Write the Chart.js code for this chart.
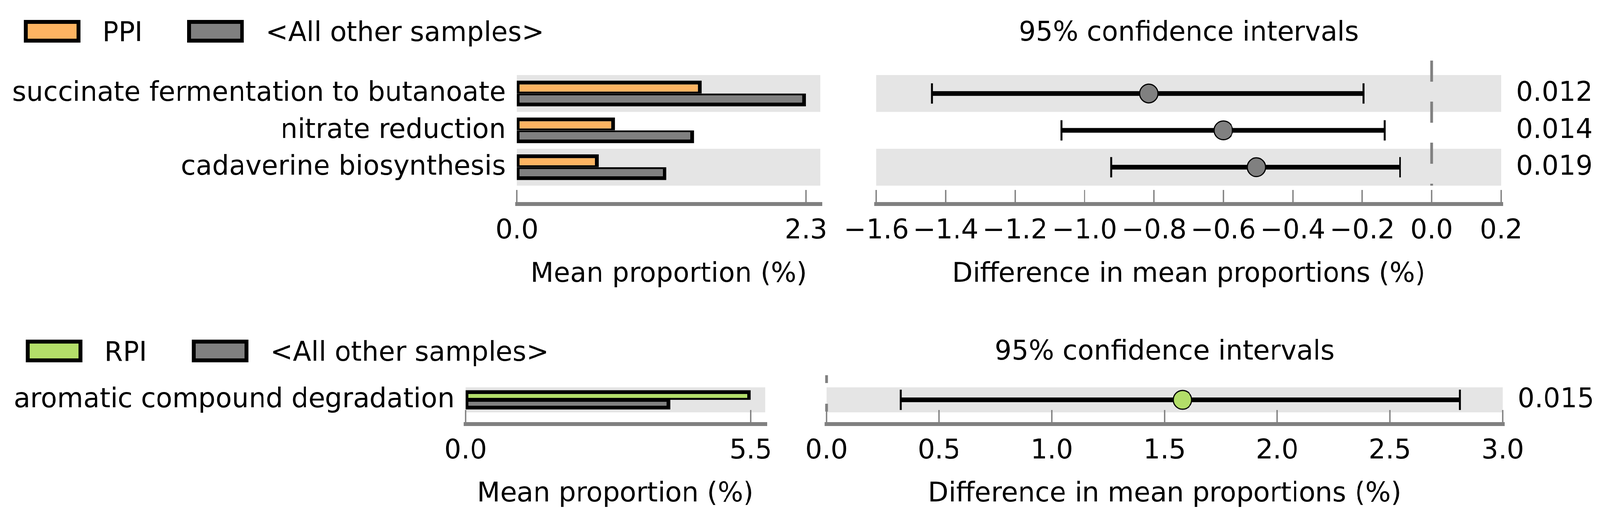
<!DOCTYPE html>
<html>
<head>
<meta charset="utf-8">
<script src="https://cdn.jsdelivr.net/npm/chart.js@4.4.1/dist/chart.umd.min.js"></script>
<style>
  html, body { margin: 0; padding: 0; background: #fff; overflow: hidden; }
  #wrap { position: absolute; left: 0; top: 0; width: 4172px; height: 1333px; background: #fff; transform-origin: 0 0; }
  #wrap canvas { position: absolute; left: 0; top: 0; }
</style>
</head>
<body>
<div id="wrap">
  <canvas id="topBars" width="4172" height="1333"></canvas>
  <canvas id="topCI" width="4172" height="1333"></canvas>
  <canvas id="bottomBars" width="4172" height="1333"></canvas>
  <canvas id="bottomCI" width="4172" height="1333"></canvas>
</div>
<script>
// --- data ---
const topCategories = ['succinate fermentation to butanoate', 'nitrate reduction', 'cadaverine biosynthesis'];
const topPPI = [1.47, 0.78, 0.65];
const topOther = [2.30, 1.41, 1.19];
const topDiff = [-0.815, -0.600, -0.505];
const topLower = [-1.440, -1.067, -0.923];
const topUpper = [-0.196, -0.135, -0.091];
const topPValues = ['0.012', '0.014', '0.019'];
const topPropTicks = [0, 2.3];
const topDiffTicks = [-1.6, -1.4, -1.2, -1.0, -0.8, -0.6, -0.4, -0.2, 0.0, 0.2];

const bottomCategories = ['aromatic compound degradation'];
const bottomRPI = [5.5];
const bottomOther = [3.95];
const bottomDiff = [1.58];
const bottomLower = [0.33];
const bottomUpper = [2.81];
const bottomPValues = ['0.015'];
const bottomPropTicks = [0, 5.5];
const bottomDiffTicks = [0.0, 0.5, 1.0, 1.5, 2.0, 2.5, 3.0];

const W = 4172, H = 1333;
const FONT = '70px "DejaVu Sans"';
const ORANGE = '#FDB462', GREEN = '#B3DE69', GREY = '#808080', BAND = '#E5E5E5';

// the browser window can be narrower than the figure, so fit the figure into it
const wrap = document.getElementById('wrap');
wrap.style.transform = 'scale(' + (window.innerWidth / W) + ',' + (window.innerHeight / H) + ')';

function fmt(v) {
    return (v < -1e-9 ? '\u2212' : '') + Math.abs(v).toFixed(1);
}

const stampPanel = {
    id: 'stampPanel',
    beforeDatasetsDraw(chart, args, opts) {
        const ctx = chart.ctx;
        const area = chart.chartArea;
        const n = opts.rows;
        const half = area.height / n / 2;
        const y = chart.scales.y;
        ctx.save();
        ctx.fillStyle = BAND;
        for (let i = 0; i < n; i += 2) {
            const c = y.getPixelForValue(i);
            ctx.fillRect(area.left, c - half, area.right - area.left, half * 2);
        }
        if (opts.zeroLine) {
            const x0 = chart.scales.x.getPixelForValue(0);
            ctx.strokeStyle = GREY;
            ctx.lineWidth = 7;
            ctx.setLineDash(opts.zeroLine.dash);
            ctx.beginPath();
            ctx.moveTo(x0, opts.zeroLine.top);
            ctx.lineTo(x0, area.bottom);
            ctx.stroke();
        }
        ctx.restore();
    },
    afterDraw(chart, args, opts) {
        const ctx = chart.ctx;
        const area = chart.chartArea;
        const x = chart.scales.x;
        const y = chart.scales.y;
        ctx.save();

        // axis line and ticks
        ctx.strokeStyle = GREY;
        ctx.lineWidth = 10;
        ctx.lineCap = 'square';
        ctx.beginPath();
        ctx.moveTo(area.left, opts.axisY);
        ctx.lineTo(area.right, opts.axisY);
        ctx.stroke();
        ctx.lineCap = 'butt';
        ctx.lineWidth = 3.5;
        ctx.font = FONT;
        ctx.fillStyle = '#000';
        ctx.textAlign = 'center';
        ctx.textBaseline = 'alphabetic';
        opts.ticks.forEach(t => {
            const px = x.getPixelForValue(t);
            ctx.beginPath();
            ctx.moveTo(px, opts.axisY - 36);
            ctx.lineTo(px, opts.axisY);
            ctx.stroke();
            ctx.fillText(fmt(t), px, opts.tickLabelY);
        });
        ctx.fillText(opts.axisTitle, (area.left + area.right) / 2, opts.axisTitleY);

        // row labels on the left, p-values on the right
        if (opts.rowLabels) {
            ctx.textAlign = 'right';
            opts.rowLabels.forEach((lab, i) => {
                ctx.fillText(lab, area.left - 29, y.getPixelForValue(i) + 19);
            });
        }
        if (opts.pValues) {
            ctx.textAlign = 'left';
            opts.pValues.forEach((p, i) => {
                ctx.fillText(p, area.right + 39, y.getPixelForValue(i) + 19);
            });
        }
        if (opts.title) {
            ctx.textAlign = 'center';
            ctx.fillText(opts.title, (area.left + area.right) / 2, opts.titleY);
        }

        // legend boxes from the bar datasets
        if (opts.legendX) {
            chart.data.datasets.forEach((ds, i) => {
                const bx = opts.legendX[i];
                ctx.fillStyle = ds.backgroundColor;
                ctx.fillRect(bx + 5, opts.legendTop + 5, 138, 48);
                ctx.strokeStyle = '#000';
                ctx.lineWidth = 10;
                ctx.strokeRect(bx + 5, opts.legendTop + 5, 138, 48);
                ctx.fillStyle = '#000';
                ctx.textAlign = 'left';
                ctx.fillText(ds.label, bx + 205, opts.legendBaseline);
            });
        }
        ctx.restore();
    }
};

function paddingFor(box) {
    return { left: box.left, top: box.top, right: W - box.right, bottom: H - box.bottom };
}

function barChart(id, box, categories, groupLabel, groupColor, groupValues, otherValues, maxX, catPct, panel) {
    return new Chart(document.getElementById(id), {
        type: 'bar',
        data: {
            labels: categories,
            datasets: [
                {
                    label: groupLabel,
                    data: groupValues,
                    backgroundColor: groupColor,
                    borderColor: '#000',
                    borderWidth: { top: 10, right: 10, bottom: 5, left: 7 },
                    borderSkipped: false
                },
                {
                    label: '<All other samples>',
                    data: otherValues,
                    backgroundColor: GREY,
                    borderColor: '#000',
                    borderWidth: { top: 5, right: 10, bottom: 10, left: 7 },
                    borderSkipped: false
                }
            ]
        },
        options: {
            indexAxis: 'y',
            responsive: false,
            animation: false,
            devicePixelRatio: 1,
            events: [],
            layout: { padding: paddingFor(box) },
            datasets: { bar: { categoryPercentage: catPct, barPercentage: 1.0 } },
            scales: {
                x: { type: 'linear', min: 0, max: maxX, display: false },
                y: { type: 'category', display: false }
            },
            plugins: {
                legend: { display: false },
                tooltip: { enabled: false },
                stampPanel: Object.assign({ rows: categories.length, rowLabels: categories }, panel)
            }
        },
        plugins: [stampPanel]
    });
}

function ciChart(id, box, diffs, lowers, uppers, color, minX, maxX, panel) {
    const datasets = [{
        type: 'scatter',
        data: diffs.map((d, i) => ({ x: d, y: i })),
        backgroundColor: color,
        borderColor: '#000',
        borderWidth: 3,
        pointRadius: 24,
        order: 0,
        clip: false
    }];
    lowers.forEach((lo, i) => {
        datasets.push({
            type: 'line',
            data: [{ x: lo, y: i }, { x: uppers[i], y: i }],
            borderColor: '#000',
            borderWidth: 12,
            pointStyle: 'line',
            pointRotation: 90,
            pointRadius: 26,
            pointBorderWidth: 5,
            pointBorderColor: '#000',
            order: 1,
            clip: false
        });
    });
    return new Chart(document.getElementById(id), {
        type: 'scatter',
        data: { datasets },
        options: {
            responsive: false,
            animation: false,
            devicePixelRatio: 1,
            events: [],
            layout: { padding: paddingFor(box) },
            scales: {
                x: { type: 'linear', min: minX, max: maxX, display: false },
                y: { type: 'linear', min: -0.5, max: diffs.length - 0.5, reverse: true, display: false }
            },
            plugins: {
                legend: { display: false },
                tooltip: { enabled: false },
                stampPanel: Object.assign({ rows: diffs.length }, panel)
            }
        },
        plugins: [stampPanel]
    });
}

// upper figure: PPI
barChart('topBars', { left: 1348, right: 2139, top: 192, bottom: 475 },
    topCategories, 'PPI', ORANGE, topPPI, topOther, 2.415, 0.7, {
        axisY: 522, tickLabelY: 610, axisTitleY: 721, axisTitle: 'Mean proportion (%)',
        ticks: topPropTicks, legendX: [62, 488], legendTop: 51, legendBaseline: 105
    });
ciChart('topCI', { left: 2285, right: 3914, top: 192, bottom: 475 },
    topDiff, topLower, topUpper, GREY, -1.6, 0.2, {
        axisY: 522, tickLabelY: 610, axisTitleY: 721, axisTitle: 'Difference in mean proportions (%)',
        ticks: topDiffTicks, pValues: topPValues, title: '95% confidence intervals', titleY: 104,
        zeroLine: { top: 155, dash: [54, 51] }
    });

// lower figure: RPI
barChart('bottomBars', { left: 1214, right: 1995, top: 991, bottom: 1055 },
    bottomCategories, 'RPI', GREEN, bottomRPI, bottomOther, 5.775, 0.77, {
        axisY: 1085, tickLabelY: 1173, axisTitleY: 1283, axisTitle: 'Mean proportion (%)',
        ticks: bottomPropTicks, legendX: [67, 500], legendTop: 869, legendBaseline: 923
    });
ciChart('bottomCI', { left: 2155, right: 3918, top: 991, bottom: 1055 },
    bottomDiff, bottomLower, bottomUpper, GREEN, 0, 3.0, {
        axisY: 1085, tickLabelY: 1173, axisTitleY: 1283, axisTitle: 'Difference in mean proportions (%)',
        ticks: bottomDiffTicks, pValues: bottomPValues, title: '95% confidence intervals', titleY: 920,
        zeroLine: { top: 960, dash: [20, 53] }
    });
</script>
</body>
</html>
